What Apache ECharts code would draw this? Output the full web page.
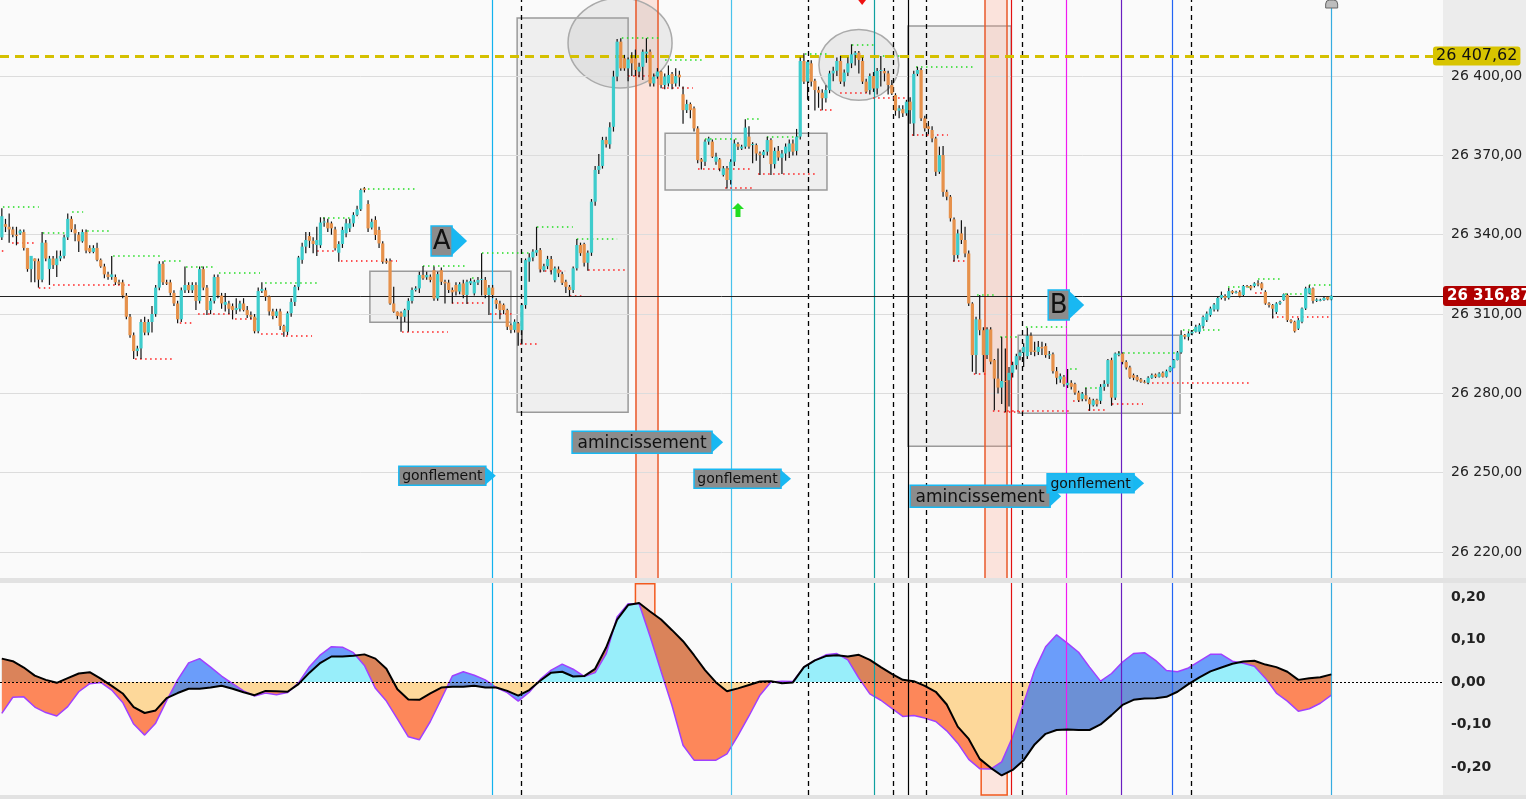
<!DOCTYPE html>
<html><head><meta charset="utf-8">
<script src="https://cdn.jsdelivr.net/npm/echarts/dist/echarts.min.js"></script>
<style>html,body{margin:0;padding:0;background:#fff;overflow:hidden}#c{width:1526px;height:799px}</style>
</head><body><div id="c"></div>
<script>
// ---------- DATA ----------
// candles: [open, close, low, high], one per bar (bar index = position)
const ohlc = [
[26339,26347,26338,26350],[26344,26343,26341,26346],[26343,26342,26337,26348],[26342,26340,26339,26343],[26340,26339.5,26336,26343],
[26340.5,26341.5,26340,26342],[26341,26335,26334,26342],[26335,26327,26326,26335],[26327,26332,26322,26332],[26331,26330,26322,26331],
[26330,26323,26320,26331],[26323,26337,26322,26341],[26337,26331,26330,26338],[26327,26331,26321,26332],[26331,26328.5,26327,26332],
[26328.5,26331,26324,26334],[26331,26332,26330,26334],[26332,26339,26331,26340],[26339,26346,26338,26348],[26346,26342,26341,26347],
[26342,26340.5,26337.5,26344],[26340,26337.5,26333.5,26341],[26337.5,26341,26337,26342],[26341,26334,26333,26342],[26335,26333.5,26333,26336],
[26333.5,26335,26333,26336],[26335,26330.5,26330,26337],[26330.5,26328,26327.5,26331],[26328,26325,26323.5,26329],[26325,26324,26323,26326],
[26324,26325,26323,26332],[26324,26322,26321,26325],[26322,26321.5,26321,26323],[26322,26317,26316,26323],[26317,26309,26308,26318],
[26309,26302,26301,26310],[26302,26296,26293,26303],[26296,26297,26294,26298],[26297,26307,26293,26308],[26307,26303,26302,26309],
[26303,26307,26302,26308],[26307,26310,26303,26313],[26310,26320,26309,26321],[26320,26329,26319,26330],[26329,26322,26321,26330],
[26322,26321.5,26321,26323],[26322,26318,26317,26323],[26318,26314,26313,26319],[26314,26308,26306.5,26315],[26308,26319,26307,26320],
[26319,26321,26318,26328],[26321,26319,26318,26322],[26319,26321,26318,26322],[26321,26315,26311.5,26322],[26315,26327,26314,26328],
[26327,26320,26319,26328],[26320,26311.5,26309.6,26321],[26311.5,26315,26310,26316],[26315,26324,26314,26325],[26324,26317,26316,26325],
[26317,26314,26312,26318],[26313.5,26314.6,26311,26318],[26314,26312,26310,26315],[26313,26311.5,26308,26314],[26311.5,26312.3,26310,26316],
[26312,26314,26311,26315],[26314,26311.5,26311,26316],[26311.5,26309.6,26308.5,26313],[26309.6,26309,26308,26311],[26309,26303.5,26302.7,26310],
[26303.5,26318.7,26302.7,26320],[26318.7,26319.5,26318,26322],[26319,26316.6,26315,26320],[26316.6,26311,26309.5,26317],[26311,26309.3,26308,26312],
[26309.3,26311,26308.5,26312],[26311,26305.5,26304,26312],[26305.5,26303.3,26301.4,26306],[26303.3,26310.3,26302,26311],[26310.3,26314.6,26309,26316],
[26314.6,26320.3,26313,26321],[26320.3,26331.4,26319,26332],[26330.5,26335.5,26329,26337],[26335.5,26338,26333,26341],[26339.5,26337.7,26335,26341],
[26337.7,26336.5,26333,26339],[26336.1,26338,26332,26343],[26336,26344.6,26335,26346.6],[26344.6,26345,26343,26346.5],[26344.6,26342.4,26341,26346],
[26344.3,26342.4,26340,26345],[26342,26334.9,26334,26343],[26333.2,26336.5,26329.8,26337.5],[26336.5,26341.8,26335,26343],[26340.5,26344.3,26339,26346],
[26342.4,26344.3,26341,26346],[26344.3,26347.5,26343,26348.5],[26347.5,26349.6,26347,26351],[26349.6,26356.9,26349,26357.5],[26357.5,26356.9,26356,26358],
[26351.6,26342.4,26341,26353],[26342.7,26344.9,26342,26346],[26345.6,26339.9,26338,26347],[26341.8,26336.7,26335,26343],[26336.7,26329.8,26329,26337.5],
[26330,26329.5,26329,26331],[26330,26314,26313.5,26331],[26314,26310.9,26310.5,26320.3],[26310.9,26309.3,26308,26311],[26310.5,26309,26303.3,26311],
[26309,26311.5,26307,26312],[26311.5,26315,26303.3,26316],[26315,26319.1,26314,26320],[26319.1,26319.7,26318.5,26320.5],[26319.7,26324.8,26318,26326],
[26324.8,26323.5,26323,26328.2],[26323.9,26324.8,26323,26326],[26324.1,26322.9,26322,26325],[26326.6,26315.9,26315,26328],[26315.9,26325.1,26315,26326],
[26326.6,26322.2,26321,26327.6],[26322.2,26321.6,26314,26323],[26321.9,26319.1,26318,26323],[26319.1,26318.2,26314,26320],[26321,26318.5,26317,26322],
[26318.5,26321.3,26317.5,26322],[26321.6,26317.2,26316,26323],[26317.2,26322.2,26313.8,26323],[26321.6,26322.5,26321,26323.5],[26317.8,26322.2,26317,26323],
[26321.9,26322.9,26321,26324],[26322.9,26323.3,26317,26333],[26322.9,26317.2,26316,26324],[26317.2,26320,26309.6,26321],[26320,26317.2,26316,26321],
[26315.3,26313.8,26312,26316],[26314,26311.5,26308,26315],[26313.5,26311.5,26310,26314],[26311.5,26305.2,26304,26312],[26305.8,26304,26302.7,26306.5],
[26304,26307.1,26303,26308],[26306.5,26303,26298,26307],[26303.9,26313.4,26298.5,26314],[26313.4,26330.4,26312,26331],[26329.8,26331.4,26322.2,26333],
[26331.4,26333.6,26330,26334.5],[26333.2,26334.2,26332,26343],[26334.2,26326.9,26325.7,26335],[26326.6,26328.1,26326,26329],[26328.1,26330.8,26327,26332],
[26330.8,26326.6,26325,26332],[26322.8,26327.3,26322,26328],[26326.9,26325.4,26324,26328],[26325.1,26321.8,26321,26326],[26322.2,26320.3,26318,26323],
[26320.3,26319.1,26316.5,26321],[26319.1,26327.3,26318,26328],[26327.3,26336.1,26326.5,26338.4],[26336.1,26333,26332,26337],[26336.5,26329.4,26328,26337],
[26329.4,26333.2,26326.4,26334],[26333.2,26352.5,26332,26353.5],[26352.5,26364.5,26351,26366],[26364.5,26366,26363,26370.5],[26366,26375.8,26365,26377],
[26375.8,26374.2,26373,26377],[26374.2,26380.6,26372.5,26382.5],[26380.8,26399.8,26379,26402],[26399.8,26413,26398,26414],[26413,26402.9,26402,26414.3],
[26406.7,26402.9,26402,26408],[26402.9,26406.3,26398,26407],[26406.7,26404.8,26400,26409],[26406.7,26402.3,26400,26410],[26401.7,26403.5,26399.5,26405],
[26403.5,26409.2,26398.5,26410],[26408.5,26409.2,26405,26414.3],[26409.2,26397.2,26396,26410],[26397.2,26399.8,26396,26401],[26399.8,26401.7,26399,26403],
[26401.7,26396.6,26395.4,26402],[26396.6,26399.8,26395,26401],[26397.2,26400.4,26396,26404],[26400.8,26397,26395,26401.5],[26397.2,26400,26396,26402.9],
[26400.5,26399.5,26396,26402],[26393.1,26387.1,26382,26396],[26387.1,26389.4,26386,26391],[26389.4,26387.1,26384,26390],[26387.8,26380.2,26379,26388.5],
[26380.2,26368.2,26367,26381],[26368.5,26367.6,26364.7,26369],[26367.6,26375.2,26366,26376],[26375.2,26376.4,26374,26377],[26375.2,26369.5,26369,26376],
[26367.6,26369.5,26366.5,26371],[26368.5,26365.1,26364,26369],[26362.6,26365.1,26362,26366],[26365.1,26360.7,26357.5,26366],[26360.7,26367.6,26359,26368.5],
[26367.6,26374.5,26366,26376],[26374.3,26373.3,26372,26375],[26372.6,26373.3,26372,26374],[26373.3,26380.5,26372.5,26383.7],[26377.1,26373.3,26372.5,26381],
[26373.9,26374.3,26367,26375],[26373.9,26370.7,26368,26374.5],[26370.7,26370.1,26362.6,26371.5],[26370.1,26371.4,26369,26372],[26371.4,26375.8,26370,26377],
[26375.8,26366.7,26362.6,26376.5],[26366.7,26371.7,26365,26373],[26371.7,26369.2,26368,26373.5],[26369.1,26370.7,26363,26372],[26370.7,26373.3,26368,26374.5],
[26371.4,26374.5,26369,26376],[26374.5,26371.4,26370,26376],[26371.7,26377.1,26370,26380],[26377.1,26405.7,26376,26407],[26405.7,26397.9,26397,26408.6],
[26397.9,26405.4,26391,26406],[26404.8,26397.9,26396,26406],[26398.2,26394.7,26387,26399],[26394.7,26393.7,26388,26396],[26393.7,26391.6,26387.1,26395],
[26391.6,26394.7,26390,26396.5],[26394.7,26401,26393.5,26402],[26401,26402,26398,26403.5],[26402,26405.7,26400,26407],[26405.7,26397.9,26397,26407.6],
[26397.9,26401.3,26396,26402.5],[26401.3,26404.8,26400,26407],[26404.8,26408.2,26403,26412],[26408,26408.8,26404,26409.5],[26408.8,26406.1,26401,26409.5],
[26405.7,26397.9,26397,26407],[26397.9,26394.1,26393.7,26399],[26394.7,26400,26393,26401],[26400,26395.3,26394,26401.5],[26395.3,26401.9,26393,26403],
[26401.9,26402.3,26396,26407.6],[26401.9,26401,26398,26403],[26401,26396.6,26393,26402],[26396.6,26393.4,26392.8,26398.5],[26392.8,26386.9,26385,26393.5],
[26386.9,26387.8,26384,26389],[26387.5,26385.9,26384.5,26389],[26385.9,26390.3,26385,26391],[26390.3,26387.1,26382,26392],[26382.1,26400.8,26377.3,26402],
[26400.8,26402.3,26400,26403.5],[26402.3,26384,26383,26403],[26384,26380.2,26379,26385],[26381,26380,26378,26383],[26379.6,26376.4,26375,26381],
[26376.4,26363.8,26362.2,26377],[26363.8,26370.1,26363,26373.3],[26370.1,26356.2,26354.4,26373.5],[26356.2,26354.4,26353,26357],[26354.4,26346.2,26345,26355],
[26345.8,26332.3,26329.9,26346.5],[26332.3,26340.5,26331,26342],[26340.5,26338,26336.5,26345.5],[26338,26332.9,26331.5,26343],[26332.9,26314,26313,26334],
[26314,26294.5,26288.2,26314.5],[26294.5,26308,26287.3,26309],[26308,26303.9,26302,26317.2],[26303.9,26294.5,26288,26305],[26294.5,26304.2,26293,26305],
[26304.2,26292,26291,26305],[26292.6,26285.6,26273.6,26293],[26285.6,26282.2,26280,26297],[26282.2,26284.7,26276,26301.4],[26284.7,26284.5,26272.9,26297],
[26285,26287.8,26275,26290],[26287.8,26290.7,26286,26292],[26290.7,26294.1,26289,26295],[26294.1,26295.5,26292.5,26296.5],[26295.5,26297.6,26290,26299],
[26294.1,26301.8,26293,26304.8],[26301.8,26295.7,26294.5,26303],[26296.2,26295.7,26294,26299.5],[26295.7,26297.6,26294.5,26299.8],[26297.6,26297,26294.5,26299.5],
[26297.9,26294.5,26293.5,26299],[26294.5,26294.8,26293,26296],[26294.8,26288.4,26287.5,26295.5],[26288.4,26285.9,26283.5,26290],[26285.3,26286.5,26284,26287.5],
[26286.3,26283.5,26282.5,26287],[26283.1,26284,26282,26289.2],[26284,26282.5,26281.5,26285],[26283.5,26280.3,26279.5,26284],[26280.3,26277.4,26276.8,26281],
[26277.9,26279.9,26277,26280.5],[26279.3,26277.8,26277,26282.1],[26277.8,26275.9,26273.4,26278.5],[26275.5,26277.4,26275,26278],[26277.6,26275.9,26275,26278],
[26277.2,26282.5,26276,26283.5],[26282.5,26283.6,26281,26285],[26283.6,26292.6,26282.5,26293],[26292.6,26278.4,26275.3,26293.5],[26278.4,26295.1,26277.5,26295.5],
[26294.5,26295.1,26294,26296],[26295.1,26291.9,26291,26295.5],[26291.9,26289.8,26289,26292.5],[26289.8,26286,26285.5,26290.5],[26286.9,26285.9,26285,26287.5],
[26286.3,26285,26284.5,26287],[26285.3,26284.4,26284,26285.8],[26284.4,26284.2,26283.8,26285],[26284,26285.9,26283.5,26286.5],[26285.9,26286.9,26285.5,26287.5],
[26287.1,26286.3,26285.8,26287.5],[26286.3,26287.5,26286,26288],[26287.8,26286.3,26286,26288.3],[26286.3,26288.4,26286,26289],[26288.4,26290,26288,26290.5],
[26289.7,26292.6,26289.5,26293],[26292.6,26295.5,26292.5,26296],[26295.5,26302.1,26295,26303.9],[26302.1,26301.4,26300.5,26302.5],[26301.4,26302.7,26300,26303.5],
[26302.7,26303.3,26302,26304],[26303.3,26305.2,26303,26306],[26303.3,26305.8,26302.5,26306.5],[26305.4,26308.9,26304.5,26309.5],[26307.7,26310.2,26307,26311],
[26309.6,26312.1,26309,26312.8],[26311.7,26313.6,26311,26314.2],[26311.7,26316.1,26311,26316.5],[26316.1,26317.2,26315.5,26318.5],[26316.8,26316.1,26315,26317.5],
[26316.1,26318.7,26315.5,26319.9],[26318.7,26318,26317.5,26319],[26318.1,26318.4,26317.8,26318.8],[26318.4,26316.8,26316.3,26319],[26317.2,26320.6,26316.8,26321],
[26320.6,26320.3,26320,26321],[26320.6,26319.7,26319,26321],[26320.6,26321.6,26320,26322],[26321.6,26321.2,26320.5,26322.8],[26321.6,26319.7,26319,26322],
[26318.4,26314,26313.5,26319],[26314,26313.4,26312.5,26314.5],[26313.4,26312,26308.3,26313.8],[26310.8,26314,26310,26314.5],[26314,26314.6,26313.5,26315],
[26315.3,26317.5,26315,26317.8],[26317.2,26307.7,26307,26317.8],[26307.7,26307.1,26306.5,26308],[26307.1,26303.5,26303,26307.5],[26304.5,26307.7,26304,26308.5],
[26307.1,26312.1,26306.5,26312.5],[26312.1,26319.7,26311.5,26320.3],[26317.8,26319.9,26317.5,26320.9],[26319.7,26315,26314,26320],[26315,26315.5,26314.6,26316],
[26315.2,26315.4,26314.8,26315.8],[26315.3,26316.1,26315,26316.5],[26316.5,26315.5,26315.2,26316.8],[26315.5,26316.87,26315.2,26317]
];
// oscillator, sampled every 3rd bar (bar index = 3*k)
const oscStep = 3;
const oscBlack = [0.055,0.049,0.034,0.015,0.005,-0.002,0.009,0.020,0.023,0.008,
-0.009,-0.027,-0.059,-0.073,-0.067,-0.038,-0.026,-0.016,-0.016,-0.013,
-0.009,-0.016,-0.024,-0.031,-0.021,-0.022,-0.023,-0.005,0.022,0.045,
0.060,0.060,0.062,0.065,0.055,0.031,-0.017,-0.041,-0.042,-0.027,
-0.013,-0.011,-0.011,-0.009,-0.013,-0.013,-0.021,-0.032,-0.019,0.003,
0.022,0.024,0.013,0.014,0.031,0.081,0.147,0.181,0.186,0.166,
0.147,0.122,0.096,0.063,0.028,-0.001,-0.022,-0.015,-0.007,0.001,
0.002,-0.003,-0.001,0.035,0.051,0.061,0.063,0.060,0.064,0.052,
0.035,0.019,0.005,0.002,-0.009,-0.023,-0.053,-0.105,-0.134,-0.181,
-0.202,-0.220,-0.207,-0.184,-0.147,-0.122,-0.113,-0.112,-0.113,-0.113,
-0.100,-0.078,-0.054,-0.042,-0.039,-0.038,-0.035,-0.023,-0.005,0.011,
0.025,0.034,0.043,0.048,0.050,0.041,0.035,0.024,0.005,0.009,
0.011,0.018];
const oscPurple = [-0.074,-0.036,-0.035,-0.059,-0.072,-0.080,-0.058,-0.023,-0.004,-0.001,
-0.019,-0.048,-0.099,-0.125,-0.097,-0.044,0.005,0.045,0.055,0.035,
0.014,-0.004,-0.021,-0.033,-0.026,-0.030,-0.025,-0.002,0.036,0.064,
0.083,0.082,0.069,0.039,-0.015,-0.045,-0.087,-0.129,-0.136,-0.093,
-0.040,0.014,0.024,0.016,0.005,-0.013,-0.025,-0.045,-0.024,0.006,
0.028,0.042,0.030,0.013,0.022,0.066,0.153,0.184,0.184,0.107,
0.025,-0.056,-0.149,-0.184,-0.184,-0.184,-0.169,-0.126,-0.080,-0.031,
0.000,0.002,0.001,0.035,0.051,0.064,0.067,0.052,0.009,-0.028,
-0.043,-0.062,-0.081,-0.079,-0.085,-0.093,-0.115,-0.144,-0.182,-0.204,
-0.205,-0.188,-0.129,-0.050,0.028,0.083,0.111,0.091,0.070,0.035,
0.002,0.020,0.047,0.067,0.069,0.051,0.027,0.024,0.033,0.049,
0.065,0.065,0.049,0.044,0.037,0.009,-0.026,-0.045,-0.069,-0.063,
-0.050,-0.031];
const priceTicks = [26220, 26250, 26280, 26310, 26340, 26370, 26400];
const oscTicks = [-0.2, -0.1, 0, 0.1, 0.2];
const lastPrice = 26316.87;
const refLevel = 26407.62;
// annotations (bar index / price units)
const vLinePos = [133.9,141.9,199.2,220.2,238.2,243.4,247.5,252.5,275.7,278.6,290.6,305.6,319.6,324.8,363.1];
const bandRanges = [[173.0,179.0],[268.5,274.5]];
const oscRects = [[173.0,178.3,0.231,0.028],[267.4,274.5,-0.111,-0.266]];
const boxes = [[100.5,139.0,26306.9,26326.2],[140.7,171.0,26272.9,26421.9],[181.1,225.3,26356.9,26378.4],[247.4,275.6,26260,26418.9],[277.5,321.7,26272.5,26302]];
const ellipses = [[168.8,26412.5,14.2,17],[234.0,26404.2,10.9,13.4]];
const labelPos = [[117.2,26337.6],[285.7,26313.4],[108.4,26248.9],[155.7,26261.5],[189.0,26247.7],[248.0,26241.1],[285.4,26246]];
const labelTexts = ['A','B','gonflement','amincissement','gonflement','amincissement','gonflement'];
const markerPos = [[201.0,26349.3],[234.9,26428.75],[363.1,26428.75]];
const greenPivots = [[0.3,10.1,26350.4],[11.2,18.1,26340.9],[19.2,22.2,26348.5],[23.3,29.3,26341.5],[30.4,43.7,26332.1],[44.3,49.5,26330],[50.3,58.5,26328],[59.3,70.5,26325.8],[71.9,86.6,26322],[87.7,97.3,26346.6],[98.6,113.6,26357.5],[115,127,26328.3],[128.4,129.7,26323.9],[131.1,144.2,26333],[146.1,155.9,26343],[157,168,26338.6],[169.3,179.7,26414.5],[181.1,191.2,26406.3],[192,201.6,26376.4],[203.5,207,26383.7],[208.9,217.9,26377],[219.3,226.1,26408.6],[232.1,238.4,26412],[239.2,245.2,26407.7],[249.6,265.2,26403.5],[266.3,271.7,26317.4],[272.6,278,26301.6],[279.6,290.8,26305.2],[291.7,294.4,26289.4],[295.8,299.9,26282.2],[304.8,320.9,26295.5],[322.5,333.4,26304.2],[334.8,341.4,26320.3],[343,349,26323.2],[350.4,358,26317.8],[356.9,363,26321.2]];
const redPivots = [[0,1.1,26334],[2.8,9.1,26337.1],[10.1,13.2,26320],[14,35.3,26321.2],[36.4,47.3,26293.2],[48.6,52.5,26306.7],[53.6,62.3,26310.3],[63.7,69.7,26308.4],[70.8,76.8,26302.7],[77.6,84.7,26301.9],[86.1,92.3,26333.8],[92.6,107.9,26330],[109.3,121.8,26303.3],[122.9,131.9,26314.3],[133.3,139.6,26310.3],[141.5,146.1,26298.6],[146.9,153.8,26326.4],[155.1,158.7,26316.9],[160.1,170.2,26326.9],[171,178.3,26400],[180.3,188.7,26395.7],[190.1,205.1,26364.8],[197.5,205.1,26357.9],[206.5,222.6,26363.2],[223.4,227,26387.4],[228.9,236.2,26393.8],[237.9,247.2,26391.9],[248.5,258.3,26377.9],[259.7,264.4,26330.1],[265.4,269.3,26287.5],[270.6,272.6,26273.6],[273.6,278,26273],[274.5,291.7,26273.3],[292.5,295.2,26277.4],[296.6,301.8,26273.7],[303.1,311.6,26276],[312.7,340.8,26284],[342.2,346.3,26318.2],[346.8,363,26308.9]];

// ---------- STYLES ----------
const FONT = 'DejaVu Sans';
const NSLOTS = 394;
const YMIN = 26210.2, YMAX = 26428.75;
const UP = '#3ecccc', DOWN = '#e6914b';
const vLineColors = ['#12b2ee','#000','#48c2ec','#000','#0fa0a0','#000','#000','#000','#e31010','#000','#f01af0','#6a1fc0','#2264f5','#000','#36ace0'];
const vLineDashed = [0,1,0,1,0,1,0,1,0,1,0,0,0,1,0];
const labelStyle = {
  'A': {w:21,h:30,fs:26,fill:'#8c8c8c',aw:15},
  'B': {w:21,h:30,fs:26,fill:'#8c8c8c',aw:15},
  'gonflement': {w:87,h:19,fs:14,fill:'#8c8c8c',aw:10},
  'amincissement': {w:140,h:22,fs:17,fill:'#8c8c8c',aw:11}
};
const labelFillOverride = {6:'#22b8f0'};
const FILL_POS = '#98eefa', FILL_NEG = '#fdd89a';
const FILL_UP = 'rgba(20,100,250,0.62)', FILL_DN = 'rgba(255,70,0,0.64)';

function fmt(v, d){
  const s = Math.abs(v).toFixed(d).split('.');
  const ip = s[0].replace(/\B(?=(\d{3})+(?!\d))/g, ' ');
  return (v < 0 && Math.abs(v) >= 0.005 ? '-' : '') + ip + (s[1] !== undefined ? ',' + s[1] : '');
}

// ---------- DERIVED ----------
const cats = Array.from({length: NSLOTS}, (_, i) => String(i));
const oscX = oscBlack.map((_, k) => k * oscStep);
const zeros = oscX.map(() => 0);
// split the band between two lines into runs of constant sign (crossing points added)
function buildRuns(xs, ya, yb){
  const runs = [];
  let cur = null;
  for (let k = 0; k < xs.length; k++) {
    const d = ya[k] - yb[k];
    if (k > 0) {
      const d0 = ya[k-1] - yb[k-1];
      if ((d0 > 0 && d < 0) || (d0 < 0 && d > 0)) {
        const t = d0 / (d0 - d);
        const xc = xs[k-1] + t * (xs[k] - xs[k-1]);
        const yc = yb[k-1] + t * (yb[k] - yb[k-1]);
        cur.a.push([xc, yc]); cur.b.push([xc, yc]);
        runs.push(cur);
        cur = {sign: d > 0 ? 1 : -1, a: [[xc, yc]], b: [[xc, yc]]};
      }
    }
    if (!cur) cur = {sign: d >= 0 ? 1 : -1, a: [], b: []};
    cur.a.push([xs[k], ya[k]]); cur.b.push([xs[k], yb[k]]);
  }
  if (cur) runs.push(cur);
  return runs.map(r => ({sign: r.sign, pts: r.a.concat(r.b.slice().reverse())}));
}
const zeroPolys = buildRuns(oscX, oscBlack, zeros).map(r => ({color: r.sign > 0 ? FILL_POS : FILL_NEG, pts: r.pts}));
const bandPolys = buildRuns(oscX, oscPurple, oscBlack).map(r => ({color: r.sign > 0 ? FILL_UP : FILL_DN, pts: r.pts}));

function vLineData(withBands){
  const out = vLinePos.map((x, k) => ({xAxis: x, lineStyle: {color: vLineColors[k], width: vLineDashed[k] ? 1.3 : 1.2, type: vLineDashed[k] ? [5,4] : 'solid'}}));
  if (withBands) bandRanges.forEach(r => r.forEach(x => out.push({xAxis: x, lineStyle: {color: '#e8582a', width: 1.5, type: 'solid'}})));
  return out;
}

// ---------- RENDERERS ----------
function renderCandle(params, api){
  const x = api.value(0), o = api.value(1), c = api.value(2), l = api.value(3), h = api.value(4);
  const pH = api.coord([x, h]), pL = api.coord([x, l]), pO = api.coord([x, o]), pC = api.coord([x, c]);
  const bw = api.size([1, 0])[0] * 0.88;
  const top = Math.min(pO[1], pC[1]);
  let hh = Math.abs(pO[1] - pC[1]); if (hh < 1) hh = 1;
  const cx = pH[0];
  return {type: 'group', children: [
    {type: 'line', shape: {x1: cx, y1: pH[1], x2: cx, y2: pL[1]}, style: {stroke: '#111', lineWidth: 1.2}},
    {type: 'rect', shape: {x: cx - bw/2, y: top, width: bw, height: hh}, style: {fill: c >= o ? UP : DOWN}}
  ]};
}
function renderEllipse(params, api){
  const c = api.coord([api.value(0), api.value(1)]);
  const rx = api.size([api.value(2), 0])[0];
  const ry = api.size([0, api.value(3)])[1];
  return {type: 'path', shape: {pathData: 'M0,1A1,1 0 1,0 2,1A1,1 0 1,0 0,1Z', x: c[0]-rx, y: c[1]-ry, width: 2*rx, height: 2*ry, layout: 'cover'},
    style: {fill: 'rgba(170,170,170,0.2)', stroke: '#aaaaaa', lineWidth: 1.5}};
}
function renderLabel(params, api){
  const k = params.dataIndex;
  const p = api.coord([api.value(0), api.value(1)]);
  const t = labelTexts[k];
  const st = labelStyle[t];
  const fill = labelFillOverride[k] || st.fill;
  const x = p[0], y = p[1];
  return {type: 'group', children: [
    {type: 'polygon', shape: {points: [[x+st.w-1, y-st.h/2], [x+st.w+st.aw, y], [x+st.w-1, y+st.h/2]]}, style: {fill: '#18b8f2'}},
    {type: 'rect', shape: {x: x, y: y-st.h/2, width: st.w, height: st.h}, style: {fill: fill, stroke: '#18b8f2', lineWidth: 1.5}},
    {type: 'text', style: {text: t, x: x + st.w/2, y: y + 1, align: 'center', verticalAlign: 'middle', fontSize: st.fs, fontFamily: FONT, fill: '#111'}}
  ]};
}
function renderMarker(params, api){
  const k = params.dataIndex;
  const p = api.coord([api.value(0), api.value(1)]);
  const x = p[0], y = p[1];
  if (k === 0) {
    return {type: 'polygon', shape: {points: [[x,y-7],[x+6,y-1],[x+2.5,y-1],[x+2.5,y+7],[x-2.5,y+7],[x-2.5,y-1],[x-6,y-1]]}, style: {fill: '#22dd22'}};
  } else if (k === 1) {
    return {type: 'polygon', shape: {points: [[x-7,y-4],[x+7,y-4],[x,y+5]]}, style: {fill: '#ee1111'}};
  }
  return {type: 'rect', shape: {x: x-6, y: y, width: 12, height: 8, r: [4,4,0,0]}, style: {fill: '#bdbdbd', stroke: '#666', lineWidth: 1}};
}
function makePolyRenderer(polys){
  return function(params, api){
    const poly = polys[params.dataIndex];
    return {type: 'polygon', shape: {points: poly.pts.map(p => api.coord(p))}, style: {fill: poly.color}};
  };
}

const pivotLines = [];
greenPivots.forEach(g => pivotLines.push([{coord: [g[0], g[2]], lineStyle: {color: '#22dd22', width: 1.5, type: [1.5,3.5]}}, {coord: [g[1], g[2]]}]));
redPivots.forEach(g => pivotLines.push([{coord: [g[0], g[2]], lineStyle: {color: '#ff1a1a', width: 1.5, type: [1.5,3.5]}}, {coord: [g[1], g[2]]}]));

const base = {symbol: 'none', showSymbol: false, silent: true, animation: false};
const mlBase = {symbol: ['none','none'], silent: true, animation: false, label: {show: false}};

const option = {
  animation: false,
  backgroundColor: '#ffffff',
  textStyle: {fontFamily: FONT},
  graphic: [
    {type: 'rect', z: -10, shape: {x: 1443, y: 0, width: 83, height: 799}, style: {fill: '#ececec'}},
    {type: 'rect', z: -10, shape: {x: 0, y: 578, width: 1526, height: 5}, style: {fill: '#e2e2e2'}},
    {type: 'rect', z: -10, shape: {x: 0, y: 795, width: 1526, height: 4}, style: {fill: '#e2e2e2'}}
  ],
  grid: [
    {left: 0, right: 83, top: 0, height: 578, show: true, backgroundColor: '#fafafa', borderWidth: 0},
    {left: 0, right: 83, top: 583, height: 212, show: true, backgroundColor: '#fafafa', borderWidth: 0}
  ],
  xAxis: [
    {type: 'category', gridIndex: 0, data: cats, show: false, boundaryGap: true},
    {type: 'value', gridIndex: 1, min: -0.5, max: NSLOTS - 0.5, show: false},
    {type: 'value', gridIndex: 0, min: -0.5, max: NSLOTS - 0.5, show: false}
  ],
  yAxis: [
    {type: 'value', gridIndex: 0, position: 'right', min: YMIN, max: YMAX, splitLine: {show: false}, axisLine: {show: false},
      axisTick: {show: true, customValues: priceTicks, length: 4, lineStyle: {color: '#999'}},
      axisLabel: {customValues: priceTicks, formatter: v => fmt(v, 2), color: '#222', fontSize: 14, fontFamily: FONT, margin: 8}},
    {type: 'value', gridIndex: 1, position: 'right', min: -0.266, max: 0.233, splitLine: {show: false}, axisLine: {show: false},
      axisTick: {show: false, customValues: oscTicks},
      axisLabel: {customValues: oscTicks, formatter: v => fmt(v, 2), color: '#222', fontSize: 14, fontWeight: 'bold', fontFamily: FONT, margin: 8}}
  ],
  series: [
    Object.assign({}, base, {type: 'line', name: 'frame', xAxisIndex: 2, yAxisIndex: 0, data: [], z: 1,
      markLine: Object.assign({}, mlBase, {data: priceTicks.map(v => ({yAxis: v, lineStyle: {color: '#dcdcdc', width: 1, type: 'solid'}}))}),
      markArea: {silent: true, animation: false, data:
        boxes.map(b => [{coord: [b[0], b[2]], itemStyle: {color: 'rgba(200,200,200,0.22)', borderColor: '#9a9a9a', borderWidth: 1.5}}, {coord: [b[1], b[3]]}])
        .concat(bandRanges.map(r => [{xAxis: r[0], itemStyle: {color: 'rgba(255,160,130,0.25)', borderWidth: 0}}, {xAxis: r[1]}]))
      }}),
    {type: 'custom', name: 'ellipses', xAxisIndex: 2, yAxisIndex: 0, data: ellipses, renderItem: renderEllipse, z: 2, silent: true, animation: false},
    Object.assign({}, base, {type: 'line', name: 'vlines', xAxisIndex: 2, yAxisIndex: 0, data: [], z: 3,
      markLine: Object.assign({}, mlBase, {data: vLineData(true)})}),
    Object.assign({}, base, {type: 'line', name: 'pivots', xAxisIndex: 2, yAxisIndex: 0, data: [], z: 4,
      markLine: Object.assign({}, mlBase, {data: pivotLines})}),
    {type: 'custom', name: 'candles', xAxisIndex: 0, yAxisIndex: 0, data: ohlc.map((d, i) => [i, d[0], d[1], d[2], d[3]]),
      encode: {x: 0, y: [1,2,3,4]}, renderItem: renderCandle, z: 5, silent: true, animation: false},
    Object.assign({}, base, {type: 'line', name: 'prices', xAxisIndex: 2, yAxisIndex: 0, data: [], z: 6,
      markLine: Object.assign({}, mlBase, {data: [
        {yAxis: refLevel, lineStyle: {color: '#d4c000', width: 3, type: [9,6]},
          label: {show: true, position: 'end', formatter: fmt(refLevel, 2), backgroundColor: '#d8c400', color: '#111', fontSize: 16, fontFamily: FONT, padding: [2,3,1,3], borderRadius: 3, distance: -10}},
        {yAxis: lastPrice, lineStyle: {color: '#222', width: 1, type: 'solid'},
          label: {show: true, position: 'end', formatter: fmt(lastPrice, 2), backgroundColor: '#b00000', color: '#fff', fontSize: 15, fontWeight: 'bold', fontFamily: FONT, padding: [3,4,2,4], borderRadius: 3, distance: 0}}
      ]})}),
    {type: 'custom', name: 'labels', xAxisIndex: 2, yAxisIndex: 0, data: labelPos, renderItem: renderLabel, z: 7, silent: true, animation: false},
    {type: 'custom', name: 'markers', xAxisIndex: 2, yAxisIndex: 0, data: markerPos, renderItem: renderMarker, z: 7, silent: true, animation: false},

    // ---- oscillator ----
    {type: 'custom', name: 'zeroFill', xAxisIndex: 1, yAxisIndex: 1, data: zeroPolys.map(p => p.pts[0]), encode: {x: 0, y: 1},
      renderItem: makePolyRenderer(zeroPolys), z: 1, silent: true, animation: false},
    {type: 'custom', name: 'bandFill', xAxisIndex: 1, yAxisIndex: 1, data: bandPolys.map(p => p.pts[0]), encode: {x: 0, y: 1},
      renderItem: makePolyRenderer(bandPolys), z: 2, silent: true, animation: false},
    Object.assign({}, base, {type: 'line', name: 'oscRects', xAxisIndex: 1, yAxisIndex: 1, data: [], z: 3,
      markArea: {silent: true, animation: false, data: oscRects.map(r => [{coord: [r[0], r[2]], itemStyle: {color: 'rgba(255,190,170,0.35)', borderColor: '#f25a1e', borderWidth: 1.5}}, {coord: [r[1], r[3]]}])},
      markLine: Object.assign({}, mlBase, {data: vLineData(false).concat([{yAxis: 0, lineStyle: {color: '#000', width: 1, type: [2,2]}}])})}),
    Object.assign({}, base, {type: 'line', name: 'purple', xAxisIndex: 1, yAxisIndex: 1, data: oscX.map((x, k) => [x, oscPurple[k]]), lineStyle: {color: '#a040ff', width: 1.5}, z: 4}),
    Object.assign({}, base, {type: 'line', name: 'black', xAxisIndex: 1, yAxisIndex: 1, data: oscX.map((x, k) => [x, oscBlack[k]]), lineStyle: {color: '#000', width: 2}, z: 5})
  ]
};

const chart = echarts.init(document.getElementById('c'), null, {renderer: 'canvas'});
chart.setOption(option);
</script>
</body></html>
